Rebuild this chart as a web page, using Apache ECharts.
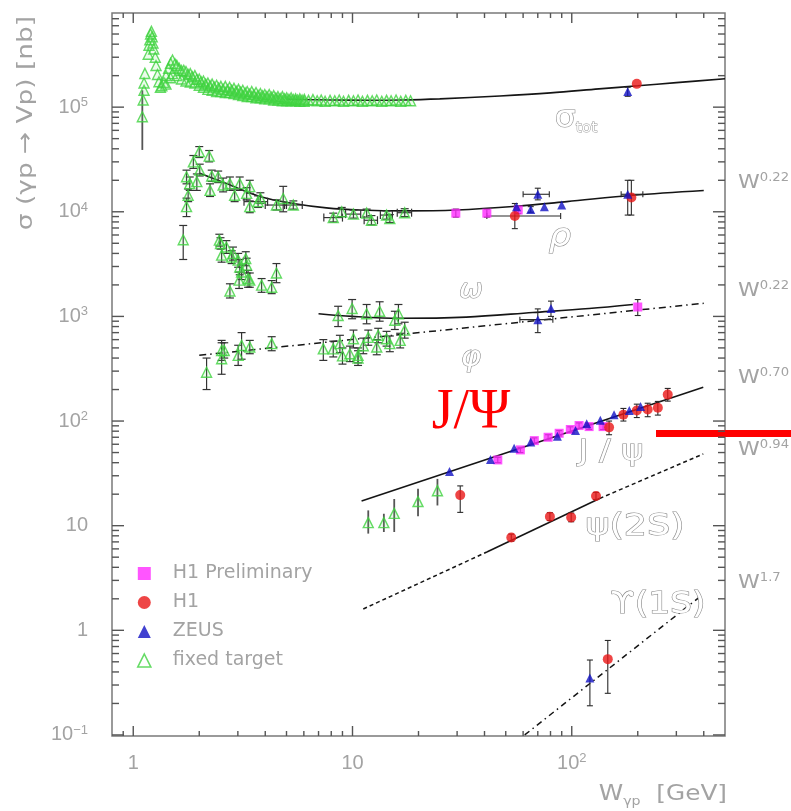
<!DOCTYPE html>
<html>
<head>
<meta charset="utf-8">
<script src="https://cdn.jsdelivr.net/npm/echarts@6/dist/echarts.min.js"></script>
<style>
  html, body { margin: 0; padding: 0; background: #ffffff; }
  #chart { width: 791px; height: 811px; }
</style>
</head>
<body>
<div id="chart"></div>
<script>
// Vector-meson photoproduction cross sections vs. W_gamma-p.
// Rows: [W (GeV), sigma (nb), sigma low, sigma high, W low, W high]

// ---- total cross section ----
const totFixed = [
  // threshold rise and first resonance region
  [1.10, 8.1e4, 3.9e4, 1.45e5], [1.11, 1.17e5], [1.12, 1.45e5], [1.12, 1.7e5], [1.13, 2.1e5],
  [1.17, 3.2e5], [1.18, 3.9e5], [1.19, 4.4e5], [1.20, 5.0e5], [1.21, 5.3e5], [1.22, 4.7e5], [1.23, 4.1e5],
  [1.24, 3.6e5], [1.26, 3.0e5], [1.27, 2.5e5], [1.29, 2.05e5], [1.31, 1.75e5], [1.33, 1.55e5],
  // second resonance region and falling band
  [1.35, 1.6e5], [1.38, 1.72e5], [1.41, 2.0e5], [1.41, 1.66e5], [1.45, 2.35e5], [1.48, 2.63e5], [1.48, 1.91e5],
  [1.51, 2.82e5], [1.51, 2.09e5], [1.55, 2.6e5], [1.58, 2.51e5], [1.58, 2.0e5], [1.62, 2.35e5],
  [1.66, 2.24e5], [1.66, 1.86e5], [1.70, 2.25e5], [1.74, 2.19e5], [1.74, 1.78e5], [1.78, 2.05e5],
  [1.82, 2.09e5], [1.82, 1.74e5], [1.86, 1.95e5], [1.91, 2.0e5], [1.91, 1.70e5], [1.95, 1.85e5],
  [2.00, 1.86e5], [2.00, 1.62e5], [2.04, 1.75e5], [2.09, 1.78e5], [2.09, 1.55e5], [2.14, 1.66e5],
  [2.19, 1.70e5], [2.19, 1.48e5], [2.24, 1.6e5], [2.29, 1.66e5], [2.29, 1.45e5], [2.34, 1.56e5],
  [2.40, 1.62e5], [2.40, 1.41e5], [2.45, 1.52e5], [2.51, 1.58e5], [2.51, 1.41e5], [2.57, 1.48e5],
  [2.63, 1.58e5], [2.63, 1.38e5], [2.69, 1.46e5], [2.75, 1.55e5], [2.75, 1.38e5], [2.81, 1.45e5],
  [2.88, 1.51e5], [2.88, 1.35e5], [2.95, 1.42e5], [3.02, 1.48e5], [3.02, 1.32e5], [3.09, 1.39e5],
  [3.16, 1.45e5], [3.16, 1.29e5], [3.24, 1.36e5], [3.31, 1.41e5], [3.31, 1.26e5], [3.39, 1.33e5],
  [3.47, 1.41e5], [3.47, 1.26e5], [3.55, 1.31e5], [3.63, 1.38e5], [3.63, 1.23e5], [3.71, 1.29e5],
  [3.80, 1.35e5], [3.80, 1.23e5], [3.89, 1.28e5], [3.98, 1.32e5], [3.98, 1.20e5], [4.07, 1.26e5],
  [4.17, 1.32e5], [4.17, 1.20e5], [4.27, 1.24e5], [4.37, 1.29e5], [4.37, 1.17e5], [4.47, 1.22e5],
  [4.57, 1.26e5], [4.57, 1.17e5], [4.68, 1.21e5], [4.79, 1.26e5], [4.79, 1.15e5], [4.90, 1.2e5],
  [5.01, 1.23e5], [5.01, 1.15e5], [5.13, 1.19e5], [5.25, 1.23e5], [5.25, 1.15e5], [5.37, 1.18e5],
  [5.50, 1.2e5], [5.50, 1.15e5], [5.62, 1.17e5], [5.75, 1.2e5], [5.75, 1.135e5], [5.89, 1.17e5],
  [6.03, 1.19e5], [6.03, 1.135e5],
  // high-energy tail
  [6.3, 1.16e5], [6.6, 1.18e5], [6.9, 1.15e5], [7.2, 1.17e5], [7.5, 1.14e5], [7.9, 1.16e5],
  [8.3, 1.15e5], [8.7, 1.17e5], [9.1, 1.14e5], [9.6, 1.16e5], [10.1, 1.15e5], [10.6, 1.17e5],
  [11.1, 1.14e5], [11.7, 1.16e5], [12.3, 1.15e5], [12.9, 1.17e5], [13.6, 1.14e5], [14.3, 1.16e5],
  [15.0, 1.15e5], [15.8, 1.17e5], [16.6, 1.14e5], [17.5, 1.16e5], [18.4, 1.15e5]
];
const totH1   = [[198, 1.67e5]];
const totZEUS = [[180, 1.41e5, 1.27e5, 1.55e5]];

// ---- rho ----
const rhoFixed = [
  [1.69, 5400, 3500, 7400], [1.75, 1.12e4, 9.0e3, 1.35e4], [1.78, 1.44e4, 1.25e4, 1.65e4],
  [1.81, 1.86e4, 1.6e4, 2.15e4], [1.75, 2.16e4, 1.85e4, 2.5e4], [1.88, 3.0e4, 2.6e4, 3.45e4],
  [2.00, 3.76e4, 3.3e4, 4.2e4], [2.22, 3.4e4, 3.0e4, 3.85e4], [1.95, 1.94e4, 1.6e4, 2.3e4],
  [2.01, 2.5e4, 2.2e4, 2.85e4], [2.28, 2.2e4, 1.95e4, 2.5e4], [2.24, 1.6e4, 1.4e4, 1.85e4],
  [2.44, 2.16e4, 1.9e4, 2.45e4], [2.57, 1.8e4, 1.55e4, 2.1e4], [2.76, 1.86e4, 1.6e4, 2.15e4],
  [2.90, 1.44e4, 1.25e4, 1.65e4], [3.06, 1.86e4, 1.6e4, 2.15e4], [3.29, 1.5e4, 1.3e4, 1.7e4],
  [3.40, 1.74e4, 1.5e4, 2.0e4], [3.40, 1.12e4, 9.8e3, 1.27e4], [3.71, 1.25e4, 1.1e4, 1.42e4, 3.2, 4.1],
  [3.80, 1.35e4, 1.2e4, 1.52e4], [4.50, 1.16e4, 1.04e4, 1.3e4, 4.0, 5.0], [4.83, 1.34e4, 1.0e4, 1.75e4],
  [5.37, 1.16e4, 1.06e4, 1.27e4, 4.9, 5.9], [8.17, 8.8e3, 8.0e3, 9.7e3, 7.4, 9.0],
  [8.93, 1.0e4, 9.0e3, 1.1e4], [10.1, 9.5e3, 8.7e3, 1.04e4, 9.3, 10.9], [11.6, 9.7e3, 8.9e3, 1.06e4],
  [12.2, 8.3e3, 7.5e3, 9.2e3, 11.3, 13.0], [14.3, 9.3e3, 8.5e3, 1.02e4, 13.4, 15.2],
  [14.8, 8.6e3, 7.9e3, 9.4e3], [17.3, 9.8e3, 9.0e3, 1.07e4, 16.0, 18.6]
];
const rhoH1prel = [[29.6, 9700, 8900, 1.06e4], [41, 9700, 8900, 1.06e4], [57, 1.04e4, 9600, 1.12e4]];
const rhoH1     = [[55, 9100, 6900, 1.2e4, 41, 89], [187, 1.37e4, 9300, 2.0e4]];
const rhoZEUS   = [[56, 1.12e4], [65, 1.05e4, 9900, 1.12e4], [70, 1.47e4, 1.3e4, 1.68e4, 60, 79],
                   [75, 1.12e4], [90, 1.16e4], [180, 1.47e4, 9300, 2.0e4, 168, 211]];

// ---- omega ----
const omegaFixed = [
  [2.47, 5360, 4700, 6100], [2.50, 4980, 4400, 5650], [2.53, 3850, 3300, 4450], [2.66, 4600, 4000, 5300],
  [2.81, 3700, 3200, 4250], [2.85, 4000, 3450, 4600], [3.01, 3450, 2950, 4000], [3.06, 2970, 2500, 3500],
  [3.12, 2660, 2250, 3100], [3.26, 3570, 3050, 4150], [3.29, 3090, 2600, 3600], [3.34, 2300, 1900, 2750],
  [3.04, 2220, 1850, 2650], [2.76, 1750, 1500, 2050], [3.40, 2220, 1900, 2600], [3.85, 1990, 1700, 2300],
  [4.28, 1900, 1650, 2200], [4.50, 2600, 2100, 3200],
  [8.6, 1020, 800, 1250], [9.96, 1190, 950, 1450], [11.6, 1060, 850, 1300], [13.3, 1120, 900, 1380],
  [16.2, 1060, 850, 1300], [15.6, 920, 750, 1120], [17.3, 740, 620, 880]
];
const omegaZEUS   = [[80.4, 1190, 1000, 1400], [70, 931, 700, 1180, 58, 82]];
const omegaH1prel = [[200, 1230, 1020, 1450]];

// ---- phi ----
const phiFixed = [
  [2.16, 293, 200, 400], [2.53, 394, 280, 560], [2.53, 473, 380, 590], [2.60, 473, 400, 560],
  [3.01, 424, 340, 530], [3.12, 528, 390, 700], [3.40, 510, 440, 590], [4.28, 550, 470, 640],
  [7.36, 490, 380, 600], [8.17, 490, 410, 580], [8.76, 550, 450, 660], [9.0, 420, 350, 500],
  [9.73, 440, 370, 520], [10.1, 612, 500, 740], [10.6, 424, 360, 500], [10.6, 400, 340, 470],
  [11.2, 525, 440, 620], [11.8, 630, 530, 740], [12.9, 510, 430, 600], [13.1, 660, 560, 770],
  [14.3, 612, 520, 720], [14.8, 550, 460, 650], [16.5, 590, 500, 690]
];

// ---- J/psi ----
const jpsiFixed = [[11.8, 10.7, 8.4, 14], [13.9, 10.7, 8.7, 13], [15.5, 13.1, 8.7, 18],
                   [19.9, 17, 12.3, 22.5], [24.4, 21.6, 15.6, 28]];
const jpsiH1 = [[31, 19.6, 13.4, 24], [148, 87, 74, 100], [172, 115, 100, 132], [198, 126, 108, 145],
                [222, 129, 110, 148], [247, 134, 114, 154], [274, 179, 155, 205]];
const jpsiZEUS = [[27.7, 33], [42.6, 43], [54.6, 55], [65, 63], [86, 71.6], [104, 81], [117, 94],
                  [135, 102], [156, 115], [183, 126], [206, 138]];
const jpsiH1prel = [[46, 42.5, 40, 45], [58.3, 53, 50, 56], [67.5, 65, 61, 69], [78, 70, 66, 74],
                    [87.6, 76.4, 72, 81], [98.5, 83, 78, 88], [108, 90.6, 85, 96], [120, 88.5, 83, 94],
                    [139, 88.5, 83, 94]];

// ---- psi(2S), Upsilon(1S) ----
const psi2sH1 = [[53, 7.7, 7.1, 8.3], [79.5, 12.2, 11.2, 13.3], [99.4, 12, 10.9, 13.2], [129, 19.2, 17.8, 20.8]];
const upsZEUS = [[121, 0.35, 0.19, 0.52]];
const upsH1   = [[146, 0.53, 0.25, 0.80]];

// ---- fitted curves [W, sigma] ----
const totFit   = [[5, 1.19e5], [8, 1.17e5], [12, 1.165e5], [16.4, 1.17e5], [25, 1.2e5], [47, 1.28e5],
                  [80, 1.37e5], [133, 1.495e5], [200, 1.6e5], [300, 1.715e5], [500, 1.87e5]];
const rhoFit   = [[2.01, 2.33e4], [2.66, 1.86e4], [3.78, 1.4e4], [5.37, 1.2e4], [7.6, 1.09e4], [10.8, 1.04e4],
                  [17.3, 1.02e4], [29.8, 1.04e4], [56, 1.13e4], [95, 1.25e4], [190, 1.44e4], [400, 1.6e4]];
const omegaFit = [[7.0, 1060], [10, 1000], [16.4, 960], [33, 985], [66.5, 1090], [120, 1190], [190, 1300]];
const phiFit   = [[2.0, 425], [400, 1335]];
const jpsiFit  = [[11.0, 17.2], [398, 210]];
const psi2sFitLow  = [[11.2, 1.6], [41, 5.6]];
const psi2sFitMid  = [[41, 5.6], [134, 18.2]];
const psi2sFitHigh = [[134, 18.2], [398, 48.5]];
const upsFit   = [[61, 0.1], [385, 2.1]];

// ---- axes: ranges, tick values and labels ----
const xRange = [0.8, 500];
const yRange = [0.0977, 7.94e5];
const xTickVals = [1, 10, 100];
const xTickText = [['1', ''], ['10', ''], ['10', '2']];
const yTickVals = [0.1, 1, 10, 100, 1e3, 1e4, 1e5];
const yTickText = [['10', '\u22121'], ['1', ''], ['10', ''], ['10', '2'], ['10', '3'], ['10', '4'], ['10', '5']];
const slopeText = ['0.22', '0.22', '0.70', '0.94', '1.7'];
const curveNames = ['\u03c3', '\u03c1', '\u03c9', '\u03c6', 'J / \u03c8', '\u03c8(2S)', '\u03d2(1S)'];

// ---------------------------------------------------------------
const L = Math.log10;
const FRAME = '#7a7a7a';
const TICK = '#555555';
const TXT = '#a3a3a3';
const X0 = L(xRange[0]), X1 = L(xRange[1]), Y0 = L(yRange[0]), Y1 = L(yRange[1]);
const GRID = { left: 112, top: 13, width: 613, height: 723 };

function minorTicks(lo, hi) {
  const out = [];
  for (let e = Math.floor(L(lo)); e <= Math.ceil(L(hi)); e++) {
    for (let k = 2; k <= 9; k++) {
      const v = k * Math.pow(10, e);
      if (v > lo * 1.001 && v < hi * 0.999) out.push(v);
    }
  }
  return out;
}
const xMinor = minorTicks(xRange[0], xRange[1]);
const yMinor = minorTicks(yRange[0], yRange[1]);

function tickFormatter(vals, texts) {
  return function (v) {
    const i = vals.findIndex(t => Math.abs(L(t) - v) < 1e-6);
    if (i < 0) return '';
    const b = texts[i][0], e = texts[i][1];
    return e ? '{b|' + b + '}{s|' + e + '}' : '{b|' + b + '}';
  };
}
const labelRich = {
  b: { fontSize: 20, color: TXT, fontFamily: 'Liberation Sans', lineHeight: 22 },
  s: { fontSize: 13, color: TXT, fontFamily: 'Liberation Sans', verticalAlign: 'top', lineHeight: 13 }
};

const xAxis = {
  type: 'value', position: 'bottom', min: X0, max: X1,
  axisLine: { show: false }, axisTick: { show: false }, splitLine: { show: false },
  axisLabel: { show: true, customValues: xTickVals.map(L), margin: 16, rich: labelRich,
               formatter: tickFormatter(xTickVals, xTickText) }
};
const yAxis = {
  type: 'value', position: 'left', min: Y0, max: Y1,
  axisLine: { show: false }, axisTick: { show: false }, splitLine: { show: false },
  axisLabel: { show: true, customValues: yTickVals.map(L), margin: 24, rich: labelRich,
               formatter: tickFormatter(yTickVals, yTickText) }
};

// ---- series builders ----
const pt = r => [L(r[0]), L(r[1])];
const opt = v => (v == null ? NaN : L(v));
const hasErr = r => r[2] != null || r[4] != null;

function errSeries(rows, cap, color, width) {
  return {
    type: 'custom', silent: true, z: 3,
    data: rows.filter(hasErr).map(r => [L(r[0]), L(r[1]), opt(r[2]), opt(r[3]), opt(r[4]), opt(r[5])]),
    encode: { x: 0, y: 1 },
    renderItem: function (params, api) {
      const xv = api.value(0), yv = api.value(1);
      const lo = api.value(2), hi = api.value(3), wl = api.value(4), wh = api.value(5);
      const st = { stroke: color, lineWidth: width };
      const kids = [];
      const seg = (a, b) => kids.push({ type: 'line', shape: { x1: a[0], y1: a[1], x2: b[0], y2: b[1] }, style: st });
      if (!isNaN(lo) && !isNaN(hi)) {
        const a = api.coord([xv, lo]), b = api.coord([xv, hi]);
        seg(a, b);
        if (cap) {
          seg([a[0] - cap, a[1]], [a[0] + cap, a[1]]);
          seg([b[0] - cap, b[1]], [b[0] + cap, b[1]]);
        }
      }
      if (!isNaN(wl) && !isNaN(wh)) {
        const a = api.coord([wl, yv]), b = api.coord([wh, yv]);
        seg(a, b);
        if (cap) {
          seg([a[0], a[1] - cap], [a[0], a[1] + cap]);
          seg([b[0], b[1] - cap], [b[0], b[1] + cap]);
        }
      }
      return { type: 'group', children: kids };
    }
  };
}

function fitLine(rows, type, width) {
  return {
    type: 'line', data: rows.map(pt), showSymbol: false, symbol: 'none', silent: true, z: 2,
    smooth: rows.length > 2 ? 0.35 : false,
    lineStyle: { color: '#151515', width: width || 1.6, type: type || 'solid' },
    clip: true
  };
}

const GREEN = '#3fd23f', MAGENTA = '#ff2bff', RED = '#ea1717', BLUE = '#1212c4';

const fixedAll = [].concat(totFixed, rhoFixed, omegaFixed, phiFixed, jpsiFixed);
const h1prelAll = [].concat(rhoH1prel, omegaH1prel, jpsiH1prel);
const h1All = [].concat(totH1, rhoH1, jpsiH1, psi2sH1, upsH1);
const zeusAll = [].concat(totZEUS, rhoZEUS, omegaZEUS, jpsiZEUS, upsZEUS);

const series = [
  fitLine(totFit),
  fitLine(rhoFit),
  fitLine(omegaFit),
  fitLine(phiFit, [7, 4, 1.5, 4], 1.5),
  fitLine(jpsiFit),
  fitLine(psi2sFitLow, [4, 3], 1.5),
  fitLine(psi2sFitMid),
  fitLine(psi2sFitHigh, [4, 3], 1.5),
  fitLine(upsFit, [6, 4, 1.5, 4], 1.5),
  errSeries([].concat(totFixed.slice(1), rhoFixed, omegaFixed, phiFixed), 4, '#333333', 1.2),
  errSeries([totFixed[0]].concat(jpsiFixed), 0, '#555555', 1.8),
  errSeries([].concat(h1prelAll, h1All, zeusAll), 3, '#2a2a2a', 1.1),
  {
    name: 'fixed target', type: 'scatter', data: fixedAll.map(pt), z: 4,
    symbol: 'triangle', symbolSize: 10,
    itemStyle: { color: 'rgba(120,230,120,0.18)', borderColor: GREEN, borderWidth: 1.4 }
  },
  {
    name: 'H1 Preliminary', type: 'scatter', data: h1prelAll.map(pt), z: 5,
    symbol: 'rect', symbolSize: 9, itemStyle: { color: MAGENTA }
  },
  {
    name: 'H1', type: 'scatter', data: h1All.map(pt), z: 5,
    symbol: 'circle', symbolSize: 10, itemStyle: { color: RED }
  },
  {
    name: 'ZEUS', type: 'scatter', data: zeusAll.map(pt), z: 6,
    symbol: 'triangle', symbolSize: 9, itemStyle: { color: BLUE }
  }
];

// ---- frame ticks: thin bars on all four edges, placed from the grid geometry ----
const xPix = v => GRID.left + (L(v) - X0) / (X1 - X0) * GRID.width;
const yPix = v => GRID.top + (Y1 - L(v)) / (Y1 - Y0) * GRID.height;
const tickBars = [];
const bar = (x, y, w, h) => tickBars.push({ type: 'rect', z: 70, silent: true,
  shape: { x: x, y: y, width: w, height: h }, style: { fill: TICK } });
function xTicks(vals, len) {
  const bottom = GRID.top + GRID.height, top = GRID.top;
  vals.forEach(v => { const x = xPix(v) - 0.7; bar(x, bottom - len, 1.4, len); bar(x, top, 1.4, len); });
}
function yTicks(vals, len) {
  const left = GRID.left, right = GRID.left + GRID.width;
  vals.forEach(v => { const y = yPix(v) - 0.7; bar(left, y, len, 1.4); bar(right - len, y, len, 1.4); });
}
xTicks(xTickVals, 10); xTicks(xMinor, 5); yTicks(yTickVals, 12); yTicks(yMinor, 7);

// ---- annotations ----
const outline = (size, italic) => ({
  fontSize: size, fontFamily: 'DejaVu Sans', fontStyle: italic ? 'italic' : 'normal',
  fill: '#ffffff', stroke: '#8a8a8a', lineWidth: 1.1
});
function outlinedText(text, x, y, size, italic, sx) {
  return { type: 'text', x: x, y: y, scaleX: sx || 1.15, z: 50,
           style: Object.assign({ text: text, align: 'center', verticalAlign: 'middle' }, outline(size, italic)) };
}
const slopeY = [183, 291, 378, 450, 583];

const graphics = [
  // y axis title
  { type: 'text', x: 26, y: 123, rotation: Math.PI / 2, scaleX: 1.2, z: 50,
    style: { text: '\u03c3 (\u03b3p \u2192 Vp) [nb]', fontSize: 22, fontFamily: 'DejaVu Sans',
             fill: TXT, align: 'center', verticalAlign: 'middle' } },
  // x axis title
  { type: 'text', x: 727, y: 795, scaleX: 1.18, z: 50,
    style: { text: '{m|W}{s|\u03b3p}{m|  [GeV]}', align: 'right', verticalAlign: 'middle',
             rich: { m: { fontSize: 21, fontFamily: 'DejaVu Sans', fill: TXT, lineHeight: 26 },
                     s: { fontSize: 12, fontFamily: 'DejaVu Sans', fill: TXT, verticalAlign: 'bottom', lineHeight: 12 } } } },
  // curve names
  { type: 'text', x: 576, y: 119, scaleX: 1.1, z: 50,
    style: { text: '{a|' + curveNames[0] + '}{b|tot}', align: 'center', verticalAlign: 'middle',
             rich: { a: Object.assign(outline(30, false), { lineHeight: 32 }),
                     b: Object.assign(outline(14, false), { verticalAlign: 'bottom', lineHeight: 14, stroke: '#999', lineWidth: 0.9 }) } } },
  outlinedText(curveNames[1], 560, 238, 32, true, 1.1),
  outlinedText(curveNames[2], 471, 291, 26, true, 1.1),
  outlinedText(curveNames[3], 471, 359, 28, true, 1.1),
  outlinedText(curveNames[4], 611, 453, 28, false, 1.2),
  outlinedText(curveNames[5], 635, 527, 30, false, 1.22),
  outlinedText(curveNames[6], 658, 605, 30, false, 1.15),
  // highlighted J/psi label and marker bar
  { type: 'text', x: 471, y: 413, z: 60,
    style: { text: 'J/\u03a8', fontSize: 56, fontFamily: 'Liberation Serif', fill: '#ff0000',
             align: 'center', verticalAlign: 'middle' } },
  { type: 'rect', z: 60, shape: { x: 656, y: 430, width: 135, height: 7 }, style: { fill: '#ff0000' } }
].concat(slopeText.map((s, i) => ({
  type: 'text', x: 738, y: slopeY[i], scaleX: 1.1, z: 50,
  style: { text: '{w|W}{e|' + s + '}', align: 'left', verticalAlign: 'middle',
           rich: { w: { fontSize: 20, fontFamily: 'DejaVu Sans', fill: TXT, lineHeight: 22 },
                   e: { fontSize: 12, fontFamily: 'DejaVu Sans', fill: TXT, verticalAlign: 'top', lineHeight: 12 } } }
}))).concat(tickBars);

const chart = echarts.init(document.getElementById('chart'), null, { renderer: 'canvas' });
chart.setOption({
  animation: false,
  backgroundColor: '#ffffff',
  grid: Object.assign({ containLabel: false, outerBoundsMode: 'none',
          show: true, borderColor: FRAME, borderWidth: 1.5, backgroundColor: 'transparent' }, GRID),
  xAxis: xAxis,
  yAxis: yAxis,
  legend: {
    orient: 'vertical', left: 137, top: 564, padding: 0,
    itemWidth: 13, itemHeight: 13, itemGap: 10, selectedMode: false,
    textStyle: { fontSize: 19, color: TXT, fontFamily: 'DejaVu Sans', padding: [0, 0, 0, 17] },
    data: [
      { name: 'H1 Preliminary', icon: 'rect', itemStyle: { color: MAGENTA } },
      { name: 'H1', icon: 'circle', itemStyle: { color: RED } },
      { name: 'ZEUS', icon: 'triangle', itemStyle: { color: BLUE } },
      { name: 'fixed target', icon: 'triangle',
        itemStyle: { color: 'rgba(255,255,255,0)', borderColor: GREEN, borderWidth: 1.6 } }
    ]
  },
  series: series,
  graphic: graphics
});
</script>
</body>
</html>
